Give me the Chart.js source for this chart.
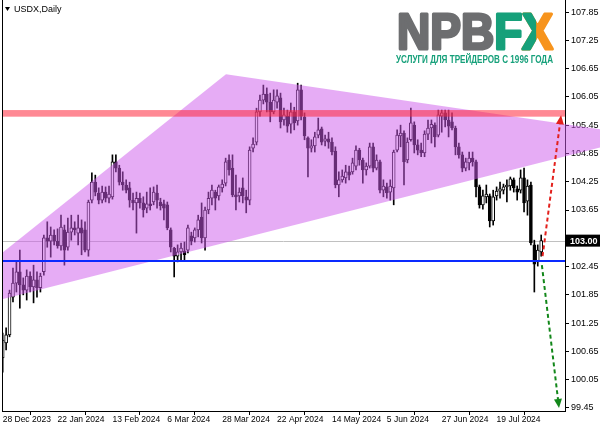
<!DOCTYPE html>
<html>
<head>
<meta charset="utf-8">
<script src="https://cdn.jsdelivr.net/npm/chart.js@4.4.1/dist/chart.umd.min.js"></script>
<style>
  html, body { margin: 0; padding: 0; background: #fff; }
</style>
</head>
<body>
<canvas id="usdx" width="600" height="429"></canvas>
<script>
// USDX daily candles, 28 Dec 2023 .. 7 Aug 2024 (bar index 0..157)
const open = [
  100.51,100.83,101.00,101.80,102.10,102.34,102.06,101.95,102.25,102.02,
  102.17,102.00,102.34,103.06,102.99,103.12,102.99,102.89,103.23,102.86,
  103.18,103.27,103.16,103.27,103.23,102.80,103.86,104.24,104.01,103.86,
  104.03,103.90,103.93,104.67,104.54,104.24,104.18,104.12,103.86,103.80,
  103.90,103.80,103.69,103.78,103.82,104.01,103.82,103.78,103.76,103.23,
  102.84,102.67,102.76,102.78,102.80,103.10,103.06,103.23,103.50,103.06,
  103.65,103.90,104.03,103.95,104.12,104.22,104.71,104.54,103.97,103.95,
  104.12,103.93,103.86,104.96,105.09,105.73,105.98,106.11,105.94,105.73,
  105.94,106.03,105.56,105.64,105.47,105.73,105.54,106.20,105.62,105.18,
  104.96,105.01,105.24,105.37,105.11,105.16,105.09,104.90,104.18,104.29,
  104.33,104.46,104.46,104.58,104.92,104.71,104.50,104.58,104.99,104.54,
  104.67,104.07,104.14,104.03,104.12,104.92,105.22,105.28,104.71,105.14,
  105.45,105.03,104.92,104.86,105.26,105.39,105.45,105.24,105.64,105.71,
  105.56,105.52,105.39,104.99,104.82,104.54,104.65,104.75,104.67,104.14,
  103.76,103.93,103.95,103.42,103.95,104.05,104.07,104.14,104.16,104.29,
  104.10,104.07,104.33,103.84,104.18,102.91,102.55,102.76
];
const high = [
  101.04,101.15,101.95,102.42,102.55,102.80,102.21,102.38,102.34,102.48,
  102.34,102.31,103.12,103.40,103.29,103.23,103.25,103.54,103.33,103.48,
  103.54,103.40,103.54,103.44,103.40,103.86,104.44,104.39,104.12,104.16,
  104.14,104.16,104.82,104.82,104.60,104.46,104.29,104.24,104.01,104.03,
  104.01,103.93,104.03,104.12,104.14,104.18,103.90,103.86,103.82,103.27,
  102.86,102.91,102.95,102.97,103.33,103.18,103.27,103.54,103.80,103.71,
  104.03,104.18,104.07,104.18,104.29,104.75,104.82,104.82,104.39,104.12,
  104.33,104.07,104.99,105.18,105.81,106.09,106.30,106.24,106.13,106.20,
  106.20,106.13,105.81,105.77,105.92,105.83,106.34,106.30,105.71,105.20,
  105.14,105.30,105.60,105.41,105.24,105.30,105.18,104.99,104.46,104.50,
  104.60,104.58,104.75,105.01,104.96,104.75,104.65,105.07,105.07,104.82,
  104.71,104.29,104.22,104.29,104.92,105.35,105.45,105.33,105.18,105.81,
  105.52,105.14,105.07,105.33,105.56,105.56,105.50,105.77,105.77,105.77,
  105.77,105.71,105.43,105.07,104.88,104.75,104.88,104.88,104.71,104.18,
  104.07,104.18,103.99,104.07,104.14,104.24,104.20,104.29,104.35,104.33,
  104.16,104.50,104.54,104.29,104.24,103.01,102.91,103.12
];
const low = [
  100.21,100.68,100.96,101.70,101.91,101.57,101.85,101.74,101.91,101.68,
  101.80,101.91,102.27,102.86,102.65,102.91,102.84,102.80,102.48,102.80,
  103.01,103.12,102.91,102.70,102.76,102.67,103.80,103.95,103.78,103.80,
  103.82,103.80,103.88,104.46,104.18,104.07,104.01,103.71,103.65,103.16,
  103.69,103.50,103.59,103.65,103.76,103.69,103.65,103.44,103.23,102.76,
  102.23,102.55,102.59,102.59,102.74,102.91,102.97,103.08,102.95,102.80,
  103.57,103.76,103.65,103.86,104.03,104.16,104.39,103.93,103.65,103.82,
  103.80,103.59,103.76,104.88,105.03,105.64,105.90,105.73,105.52,105.69,
  105.81,105.39,105.45,105.30,105.28,105.35,105.45,105.56,105.14,104.35,
  104.88,104.88,105.18,105.03,105.01,104.96,104.82,104.12,103.93,104.24,
  104.22,104.29,104.41,104.50,104.60,104.22,104.39,104.54,104.46,104.50,
  104.01,103.93,103.90,103.86,103.76,104.88,104.99,104.18,104.65,105.11,
  104.86,104.82,104.78,104.78,105.14,105.07,104.99,105.20,105.30,105.41,
  105.20,105.35,104.82,104.75,104.46,104.48,104.50,104.58,103.93,103.69,
  103.67,103.80,103.29,103.33,103.86,103.90,103.99,103.82,104.07,104.03,
  103.86,104.01,103.61,103.54,102.91,101.91,102.46,102.67
];
const close = [
  100.89,101.00,101.89,102.10,102.34,102.06,101.95,102.25,102.02,102.17,
  102.00,102.25,103.06,102.99,103.12,102.99,102.89,103.29,102.80,103.18,
  103.27,103.23,103.27,103.16,102.80,103.82,104.24,104.03,103.86,104.03,
  103.90,103.99,104.67,104.54,104.24,104.18,104.07,103.86,103.80,103.90,
  103.80,103.65,103.78,103.74,104.03,103.86,103.74,103.69,103.27,102.86,
  102.67,102.76,102.84,102.70,103.27,102.99,103.23,103.44,103.06,103.65,
  103.90,104.07,103.90,104.14,104.20,104.67,104.50,103.97,103.93,104.03,
  103.95,103.86,104.92,105.05,105.73,105.98,106.11,105.94,105.73,105.98,
  106.07,105.52,105.67,105.43,105.73,105.50,106.20,105.64,105.22,104.96,
  105.01,105.20,105.35,105.09,105.16,105.09,104.88,104.18,104.29,104.37,
  104.46,104.39,104.65,104.92,104.71,104.50,104.58,104.99,104.54,104.71,
  104.07,104.16,104.01,104.16,104.88,105.24,105.28,104.67,105.09,105.50,
  105.03,104.92,104.86,105.26,105.39,105.47,105.20,105.67,105.71,105.56,
  105.43,105.39,104.99,104.82,104.54,104.67,104.75,104.67,104.14,103.76,
  103.95,103.99,103.42,103.93,104.05,104.10,104.14,104.18,104.31,104.12,
  104.03,104.33,103.80,104.16,102.95,102.50,102.80,103.00
];

const tickIdx = [0, 16, 32, 48, 64, 80, 96, 112, 128, 144];
const tickLabels = ['28 Dec 2023', '22 Jan 2024', '13 Feb 2024', '6 Mar 2024', '28 Mar 2024',
                    '22 Apr 2024', '14 May 2024', '5 Jun 2024', '27 Jun 2024', '19 Jul 2024'];
const priceTicks = [99.45, 100.05, 100.65, 101.25, 101.85, 102.45, 103.05, 103.65,
                    104.25, 104.85, 105.45, 106.05, 106.65, 107.25, 107.85];

const lastPrice = 103.00;
const resistanceBand = [105.63, 105.77];
const support = 102.57;
const triangleIdx = [-25, 65.1, 187.3];
const trianglePrice = [101.30, 106.53, 105.22];
const upArrowIdx = [157.4, 162.8];
const upArrowPrice = [102.67, 105.66];
const downArrowIdx = [157.2, 162.2];
const downArrowPrice = [102.48, 99.45];

const idx = open.map((_, i) => i);
const font = '"Liberation Sans", Arial, sans-serif';

function arrow(ctx, x0, y0, x1, y1, color) {
  const ang = Math.atan2(y1 - y0, x1 - x0);
  const head = 9, half = 4;
  const bx = x1 - head * Math.cos(ang), by = y1 - head * Math.sin(ang);
  ctx.save();
  ctx.strokeStyle = color;
  ctx.fillStyle = color;
  ctx.lineWidth = 2;
  ctx.setLineDash([4, 3]);
  ctx.beginPath();
  ctx.moveTo(x0, y0);
  ctx.lineTo(bx, by);
  ctx.stroke();
  ctx.setLineDash([]);
  ctx.beginPath();
  ctx.moveTo(x1, y1);
  ctx.lineTo(bx + half * Math.sin(ang), by - half * Math.cos(ang));
  ctx.lineTo(bx - half * Math.sin(ang), by + half * Math.cos(ang));
  ctx.closePath();
  ctx.fill();
  ctx.restore();
}

function heavyText(ctx, text, x, y, color) {
  ctx.fillStyle = color;
  ctx.strokeStyle = color;
  ctx.fillText(text, x, y);
  ctx.strokeText(text, x, y);
}

const overlay = {
  id: 'overlay',
  beforeDatasetsDraw(chart) {
    const { ctx, chartArea: a, scales: { y } } = chart;
    const py = Math.round(y.getPixelForValue(lastPrice)) + 0.5;
    ctx.save();
    ctx.strokeStyle = '#c0c0c0';
    ctx.lineWidth = 1;
    ctx.beginPath();
    ctx.moveTo(a.left, py);
    ctx.lineTo(a.right, py);
    ctx.stroke();
    ctx.restore();
  },
  afterDatasetsDraw(chart) {
    const { ctx, chartArea: a, scales: { x, y } } = chart;

    // triangle pattern, spills into the price scale on the right
    ctx.save();
    ctx.beginPath();
    ctx.rect(a.left, a.top, chart.width - a.left, a.bottom - a.top);
    ctx.clip();
    ctx.fillStyle = 'rgba(205, 90, 235, 0.5)';
    ctx.beginPath();
    triangleIdx.forEach((v, k) => {
      const px = x.getPixelForValue(v), py = y.getPixelForValue(trianglePrice[k]);
      if (k) ctx.lineTo(px, py); else ctx.moveTo(px, py);
    });
    ctx.closePath();
    ctx.fill();
    ctx.restore();

    ctx.save();
    ctx.beginPath();
    ctx.rect(a.left, a.top, a.right - a.left, a.bottom - a.top);
    ctx.clip();
    const yTop = y.getPixelForValue(resistanceBand[1]);
    const yBot = y.getPixelForValue(resistanceBand[0]);
    ctx.fillStyle = 'rgba(255, 40, 60, 0.55)';
    ctx.fillRect(a.left, yTop, a.right - a.left, yBot - yTop);

    const ys = Math.round(y.getPixelForValue(support));
    ctx.strokeStyle = '#0a2aff';
    ctx.lineWidth = 2;
    ctx.beginPath();
    ctx.moveTo(a.left, ys);
    ctx.lineTo(a.right, ys);
    ctx.stroke();
    ctx.restore();

    arrow(ctx, x.getPixelForValue(upArrowIdx[0]), y.getPixelForValue(upArrowPrice[0]),
               x.getPixelForValue(upArrowIdx[1]), y.getPixelForValue(upArrowPrice[1]), '#e3201c');
    arrow(ctx, x.getPixelForValue(downArrowIdx[0]), y.getPixelForValue(downArrowPrice[0]),
               x.getPixelForValue(downArrowIdx[1]), y.getPixelForValue(downArrowPrice[1]), '#12871a');
  },
  afterDraw(chart) {
    const { ctx, chartArea: a, scales: { y } } = chart;
    ctx.save();

    // left frame line
    ctx.strokeStyle = '#000';
    ctx.lineWidth = 1;
    ctx.beginPath();
    ctx.moveTo(a.left + 0.5, 0);
    ctx.lineTo(a.left + 0.5, a.bottom);
    ctx.stroke();

    // current price tag
    const py = y.getPixelForValue(lastPrice);
    ctx.fillStyle = '#000';
    ctx.fillRect(a.right + 1, py - 6, chart.width - a.right - 1, 12);
    ctx.fillStyle = '#fff';
    ctx.font = 'bold 9px ' + font;
    ctx.textBaseline = 'middle';
    ctx.textAlign = 'left';
    ctx.fillText(lastPrice.toFixed(2), a.right + 5, py + 0.5);

    // symbol title
    ctx.fillStyle = '#000';
    ctx.beginPath();
    ctx.moveTo(5, 7); ctx.lineTo(10, 7); ctx.lineTo(7.5, 11);
    ctx.closePath();
    ctx.fill();
    ctx.font = '9px ' + font;
    ctx.fillText('USDX,Daily', 14, 9.5);

    // NPBFX logo
    ctx.font = 'bold 50px ' + font;
    ctx.textBaseline = 'alphabetic';
    ctx.lineJoin = 'round';
    ctx.lineWidth = 3;
    const wNPB = ctx.measureText('NPB').width;
    const wF = ctx.measureText('F').width;
    const wX = ctx.measureText('X').width;
    const sx = 156 / (wNPB + wF + wX);
    ctx.save();
    ctx.translate(397, 48.5);
    ctx.scale(sx, 1);
    heavyText(ctx, 'NPB', 0, 0, '#6d6e70');
    heavyText(ctx, 'F', wNPB, 0, '#16a07a');
    heavyText(ctx, 'X', wNPB + wF, 0, '#f7941d');
    ctx.beginPath();
    ctx.rect(wNPB + wF - 3, -42, wX * 0.45 + 3, 48);
    ctx.clip();
    heavyText(ctx, 'X', wNPB + wF, 0, '#16a07a');
    ctx.restore();

    ctx.font = 'bold 11px ' + font;
    const sub = 'УСЛУГИ ДЛЯ ТРЕЙДЕРОВ С 1996 ГОДА';
    const ws = ctx.measureText(sub).width;
    ctx.save();
    ctx.translate(396, 63);
    ctx.scale(157 / ws, 1);
    ctx.fillStyle = '#16a07a';
    ctx.fillText(sub, 0, 0);
    ctx.restore();

    ctx.restore();
  }
};

new Chart(document.getElementById('usdx'), {
  type: 'bar',
  data: {
    datasets: [
      {
        label: 'wicks',
        data: idx.map(i => ({ x: i, y: [low[i], high[i]] })),
        backgroundColor: '#000',
        barThickness: 1,
        grouped: false,
        order: 2
      },
      {
        label: 'bodies',
        data: idx.map(i => ({ x: i, y: [open[i], close[i]] })),
        backgroundColor: c => close[c.dataIndex] >= open[c.dataIndex] ? '#fff' : '#000',
        borderColor: '#000',
        borderWidth: 1,
        borderSkipped: false,
        barThickness: 3,
        grouped: false,
        order: 1
      }
    ]
  },
  options: {
    responsive: false,
    devicePixelRatio: 1,
    animation: false,
    layout: { padding: { left: 2, top: 0, right: 0, bottom: 0 } },
    plugins: { legend: { display: false }, tooltip: { enabled: false } },
    scales: {
      x: {
        type: 'linear',
        min: -0.2,
        max: 163.94,
        offset: false,
        afterBuildTicks: s => { s.ticks = tickIdx.map(v => ({ value: v })); },
        afterFit: s => { s.height = 18; s.paddingLeft = 0; s.paddingRight = 0; },
        ticks: {
          autoSkip: false,
          maxRotation: 0,
          align: 'start',
          padding: 0,
          color: '#000',
          font: { family: font, size: 8.5 },
          callback: (v, i) => tickLabels[i]
        },
        grid: { drawOnChartArea: false, tickLength: 4, color: '#000' },
        border: { display: true, color: '#000' }
      },
      y: {
        type: 'linear',
        position: 'right',
        min: 99.386,
        max: 108.105,
        z: 1,
        afterBuildTicks: s => { s.ticks = priceTicks.map(v => ({ value: v })); },
        afterFit: s => { s.width = 35; s.paddingTop = 0; s.paddingBottom = 0; },
        ticks: {
          autoSkip: false,
          padding: 2,
          color: '#000',
          font: { family: font, size: 9 },
          callback: v => Math.abs(v - lastPrice) < 0.1 ? '' : v.toFixed(2)
        },
        grid: { drawOnChartArea: false, tickLength: 4, color: '#000' },
        border: { display: true, color: '#000' }
      }
    }
  },
  plugins: [overlay]
});
</script>
</body>
</html>
